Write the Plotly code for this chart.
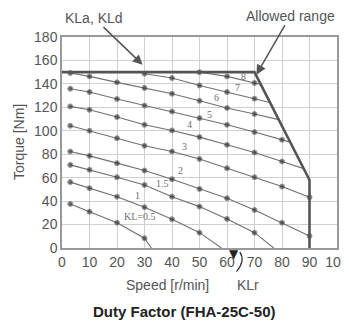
import plotly.graph_objects as go

# speeds [r/min] at which the dots sit on every duty factor curve
SPEED = [3, 10, 20, 30, 40, 50, 60, 70, 80, 90]

# torque [Nm] (None = no dot there)
torque_kl8 = [None, None, None, None, None, 150, 146.4, 140.8, None, None]
torque_kl7 = [None, None, None, 148.7, 145, 138.7, 133.1, 127.4, None, None]
torque_kl6 = [149.3, 146.4, 141.3, 136.5, 131.6, 125.6, 119.4, 114.3, None, None]
torque_kl5 = [135.9, 133.1, 127.1, 121.5, 116.5, 110.8, 105.1, 98.9, 92.3, None]
torque_kl4 = [120.8, 117.9, 111.7, 105.1, 100.3, 94.6, 88, 81.5, 73.8, None]
torque_kl3 = [104.3, 100, 93.7, 87.2, 82.3, 76, 68.1, 60.4, 52.4, 43.3]
torque_kl2 = [82.3, 78.6, 72.4, 66.1, 58.7, 50.4, 42.5, 32.5, 21.6, 10.3]
torque_kl15 = [70.9, 66.7, 60.4, 53.8, 43.8, 35.3, 24.8, 13.1, None, None]
torque_kl1 = [56.2, 51, 43.8, 34.8, 24.5, 13.1, None, None, None, None]
torque_kl05 = [37.6, 31, 21.6, 8.3, None, None, None, None, None, None]

CURVES = [torque_kl8, torque_kl7, torque_kl6, torque_kl5, torque_kl4,
          torque_kl3, torque_kl2, torque_kl15, torque_kl1, torque_kl05]

# where each curve runs out (allowed range border or the speed axis)
END_SPEED = [72.3, 75.6, 78.8, 83, 87.9, None, None, 77, 58, 32.5]
END_TORQUE = [139.5, 124.2, 109.5, 90.3, 67.7, None, None, 0, 0, 0]

# curve labels and where they are written
KL_LABELS = ["8", "7", "6", "5", "4", "3", "2", "1.5", "1", "KL=0.5"]
LABEL_SPEED = [66, 63.7, 56, 53.7, 46.2, 44.6, 43, 36.5, 27.3, 28]
LABEL_TORQUE = [146, 136.5, 128.8, 113.7, 105, 87, 66, 55, 44.4, 26.8]

# allowed range border
ALLOWED_SPEED = [0, 70, 90, 90]
ALLOWED_TORQUE = [150, 150, 58, 0]

GRAY_TEXT = "#555555"
SANS = "Liberation Sans"

fig = go.Figure()

for vals, ex, ey in zip(CURVES, END_SPEED, END_TORQUE):
    xs = [s for s, v in zip(SPEED, vals) if v is not None]
    ys = [v for v in vals if v is not None]
    sizes = [5] * len(xs)
    if ex is not None:
        xs.append(ex)
        ys.append(ey)
        sizes.append(0)
    fig.add_trace(
        go.Scatter(
            x=xs,
            y=ys,
            mode="lines+markers",
            line=dict(color="#707070", width=1.1),
            marker=dict(color="#333333", size=sizes),
            showlegend=False,
            hoverinfo="skip",
        )
    )

fig.add_trace(
    go.Scatter(
        x=ALLOWED_SPEED,
        y=ALLOWED_TORQUE,
        mode="lines",
        line=dict(color="#555555", width=2.6),
        showlegend=False,
        hoverinfo="skip",
    )
)

annotations = []
for lab, lx, ly in zip(KL_LABELS, LABEL_SPEED, LABEL_TORQUE):
    annotations.append(
        dict(
            x=lx, y=ly, text=lab, showarrow=False,
            font=dict(family="Liberation Serif", size=10, color="#707070"),
        )
    )

annotations += [
    dict(
        x=29.3, y=156.4, xref="x", yref="y", text="KLa, KLd",
        ax=-49, ay=-47, showarrow=True, arrowhead=2, arrowsize=1.3,
        arrowwidth=1.5, arrowcolor="#555555", standoff=0,
        font=dict(family=SANS, size=14, color=GRAY_TEXT),
    ),
    dict(
        x=70.7, y=147.9, xref="x", yref="y", text="Allowed range",
        ax=34, ay=-59, showarrow=True, arrowhead=2, arrowsize=1.3,
        arrowwidth=1.5, arrowcolor="#555555", standoff=0,
        font=dict(family=SANS, size=14, color=GRAY_TEXT),
    ),
    dict(
        x=62.6, y=0, xref="x", yref="y", text="\u25bc", showarrow=False,
        yanchor="top", yshift=3,
        font=dict(family="DejaVu Sans", size=12, color="#222222"),
    ),
    dict(
        x=0.676, y=-0.175, xref="paper", yref="paper", text="KLr",
        xanchor="center", yanchor="middle", showarrow=False,
        font=dict(family=SANS, size=14, color=GRAY_TEXT),
    ),
    dict(
        x=0.384, y=-0.175, xref="paper", yref="paper", text="Speed [r/min]",
        xanchor="center", yanchor="middle", showarrow=False,
        font=dict(family=SANS, size=14, color=GRAY_TEXT),
    ),
    dict(
        x=-0.158, y=0.5, xref="paper", yref="paper", text="Torque [Nm]",
        textangle=-90, xanchor="center", yanchor="middle", showarrow=False,
        font=dict(family=SANS, size=14, color=GRAY_TEXT),
    ),
    dict(
        x=0.446, y=-0.302, xref="paper", yref="paper",
        text="<b>Duty Factor (FHA-25C-50)</b>",
        xanchor="center", yanchor="middle", showarrow=False,
        font=dict(family=SANS, size=15, color="#222222"),
    ),
]

# page body keeps an 8px margin, so the figure is 8px smaller each way
fig.update_layout(
    width=341,
    height=316,
    margin=dict(l=54, r=12, t=29, b=76),
    paper_bgcolor="white",
    plot_bgcolor="white",
    annotations=annotations,
    shapes=[
        dict(
            type="path", xref="paper", yref="paper",
            path="M 0.6466,-0.018 Q 0.668,-0.06 0.6346,-0.112",
            line=dict(color="#333333", width=1.2),
        )
    ],
)

fig.update_xaxes(
    range=[0, 100], dtick=10, showgrid=True, gridcolor="#d0d0d0", gridwidth=1,
    showline=True, linecolor="#999999", linewidth=1.5, mirror=True,
    zeroline=False, ticks="", automargin=False,
    tickfont=dict(family=SANS, size=14, color=GRAY_TEXT),
)
fig.update_yaxes(
    range=[0, 180], dtick=20, showgrid=True, gridcolor="#d0d0d0", gridwidth=1,
    showline=True, linecolor="#999999", linewidth=1.5, mirror=True,
    zeroline=False, ticks="", automargin=False,
    tickfont=dict(family=SANS, size=14, color=GRAY_TEXT),
)

fig.write_html("out.html")
